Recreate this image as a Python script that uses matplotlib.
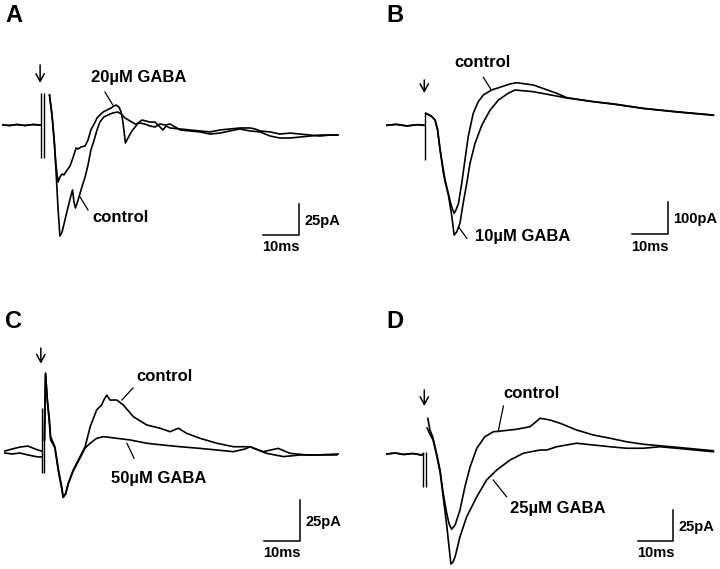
import numpy as np
import matplotlib
matplotlib.use("Agg")
import matplotlib.pyplot as plt

plt.rcParams['font.family'] = ['Liberation Sans', 'DejaVu Sans']

# ---- panel A (20uM GABA), time in ms from stimulus, current in pA ----
a_base_t = [-11.1, -9.2, -7.2, -5.0, -2.8, -0.6]
a_base_i = [0, -0.4, 0.4, -0.4, 0.4, 0]
a_ctrl_t = [1.8, 2.5, 3.1, 3.6, 4.2, 4.7, 5.3, 6.1, 6.9, 7.8, 8.2, 8.6, 9.0, 9.4, 10.0, 10.8, 11.7, 12.5,
            13.3, 14.2, 15.0, 15.8, 16.9, 18.1, 19.4, 20.8, 21.7, 22.8, 24.2, 25.6, 26.9, 28.3, 29.7, 31.1,
            32.5, 33.9, 35.3, 36.7, 38.1, 40.8, 43.6, 46.4, 49.2, 51.9, 54.7, 57.5, 60.3, 63.1, 65.8, 68.6,
            71.4, 74.2, 76.9, 79.7, 81.9]
a_ctrl_i = [24.2, 8.1, -12.1, -36.3, -68.5, -89.5, -86.3, -76.6, -66.9, -56.5, -52.4, -62.1, -66.9, -63.7,
            -58.1, -50.0, -41.9, -32.3, -20.2, -12.1, -4.0, 2.4, 6.5, 8.1, 9.7, 10.5, 8.9, 5.6, 3.2, 0.8, 1.6,
            0.8, -0.8, -1.6, 0.8, 0, 0.8, -1.6, -4.0, -4.8, -5.6, -7.3, -6.5, -4.8, -3.2, -4.8, -5.6, -8.9,
            -10.5, -10.5, -9.7, -8.9, -8.1, -8.1, -8.1]
a_gaba_t = [1.8, 2.5, 3.1, 3.6, 4.2, 4.7, 5.3, 5.8, 6.5, 7.5, 8.3, 9.2, 9.7, 10.6, 11.7, 12.5, 13.3, 14.2,
            15.0, 15.8, 16.7, 17.8, 18.9, 19.7, 20.3, 21.1, 21.7, 22.2, 22.9, 23.3, 23.9, 24.7, 25.6, 26.4,
            27.5, 28.6, 29.7, 31.1, 32.5, 33.3, 34.2, 35.3, 38.1, 40.8, 43.6, 46.4, 49.2, 51.9, 54.7, 57.5,
            58.9, 60.3, 63.1, 65.8, 68.6, 71.4, 74.2, 76.9, 79.7, 81.9]
a_gaba_i = [24.2, 8.1, -12.1, -32.3, -46.0, -41.9, -39.5, -40.3, -37.1, -33.1, -26.6, -18.5, -19.4, -17.7,
            -16.9, -12.1, -4.0, 0.8, 5.6, 8.1, 10.5, 12.1, 13.7, 15.3, 16.1, 14.5, 10.5, 2.4, -14.5, -12.1,
            -8.9, -4.8, -1.6, 1.6, 4.0, 3.2, 2.4, 2.4, -1.6, -4.0, -0.8, -2.4, -3.2, -4.0, -4.8, -5.6, -4.0,
            -3.2, -2.4, -2.4, -3.2, -4.8, -5.6, -7.3, -6.5, -7.3, -8.1, -8.9, -8.1, -8.1]
a_art_t = [-0.5, 0.4]
a_art_range = [25.8, -26.6]

# ---- panel B (10uM GABA) ----
b_base_t = [-10.6, -8.0, -5.0, -2.0, -0.3]
b_base_i = [0, 3, -2, 2, 0]
b_ctrl_t = [0.2, 1.7, 2.8, 3.5, 4.2, 5.1, 5.6, 6.9, 7.5, 8.1, 8.6, 9.3, 10.2, 11.1, 12.0, 13.4, 14.8, 16.2,
            18.5, 21.3, 23.6, 25.5, 30.1, 36.6, 39.4, 46.8, 52.6, 60.6, 69.9, 80.1]
b_ctrl_i = [37.5, 29.1, 16.6, -14.7, -77.2, -139.7, -171.6, -233.4, -258.4, -275, -264.7, -243.8, -181.3,
            -108.4, -35.6, 37.5, 73.8, 94.7, 110.3, 120.6, 129.1, 133.1, 125.9, 100, 86.3, 73.8, 66.6, 53.1,
            42.5, 32.2]
b_gaba_t = [0.2, 1.7, 2.8, 3.5, 4.2, 5.1, 5.6, 6.5, 7.4, 8.1, 8.8, 9.7, 10.6, 11.6, 12.5, 13.9, 15.8, 18.1,
            20.4, 23.1, 25.0, 30.1, 37.5, 39.4, 46.8, 52.6, 60.6, 69.9, 80.1]
b_gaba_i = [37.5, 29.1, 16.6, -14.7, -77.2, -149.1, -177.2, -217.8, -280.3, -342.8, -333.4, -306.3, -243.8,
            -181.3, -118.8, -56.3, 0.9, 47.8, 79.1, 100, 110.3, 105, 89.4, 85.3, 73.8, 65.6, 52.5, 41.6, 31.3]
b_art_t = [0.0]
b_art_range = [37.5, -108.4]

# ---- panel C (50uM GABA) ----
c_base_t = [-10.6, -8.6, -6.4, -4.2, -2.8, -1.4, -0.4]
c_base_ctrl = [0.6, 1.8, 3.0, 3.6, 2.4, 1.2, 0.6]
c_base_gaba = [-0.6, -1.2, -0.6, -1.8, -2.4, -3.0, -3.0]
c_ctrl_t = [0.4, 0.7, 1.2, 1.8, 2.1, 2.9, 3.3, 4.3, 5.2, 5.6, 6.3, 7.0, 8.4, 10.3, 11.7, 13.1, 14.9, 16.3,
            16.9, 17.7, 18.6, 20.5, 22.3, 25.1, 28.8, 32.5, 35.3, 37.6, 39.9, 43.6, 48.3, 52.9, 57.5, 61.2,
            65.3, 68.6, 73.3, 81.6]
c_ctrl_i = [7.3, 47.7, 31.5, 19.4, 9.3, 5.3, 3.2, -10.9, -21.0, -27.1, -25.0, -19.0, -10.9, -2.8, 3.2, 15.3,
            25.5, 28.5, 31.5, 34.5, 31.5, 31.5, 28.5, 21.4, 16.4, 14.4, 12.3, 14.4, 11.3, 8.3, 5.3, 3.2, 3.2,
            0.2, 2.2, -0.8, -1.8, -1.8]
c_gaba_t = [0.4, 0.7, 1.2, 1.8, 2.1, 2.9, 3.3, 4.3, 5.2, 5.6, 6.3, 7.0, 8.4, 10.3, 11.7, 13.1, 14.9, 16.8,
            20.5, 24.2, 28.8, 33.4, 38.1, 43.6, 48.3, 52.9, 56.1, 57.5, 59.7, 62.1, 66.8, 71.4, 76.0, 82.0]
c_gaba_i = [7.3, 47.7, 31.5, 16.4, 7.3, 4.2, 2.4, -12.1, -22.4, -27.6, -25.5, -19.4, -11.5, -3.6, 2.4, 5.3,
            8.3, 9.3, 8.3, 7.3, 5.3, 4.2, 3.2, 2.2, 1.2, 0.2, 1.8, 3.2, 1.2, -0.8, -2.8, -1.8, -1.8, -1.2]
c_art_t = [-0.4, 0.2]
c_art_range = [26.7, -12.7]

# ---- panel D (25uM GABA) ----
d_base_t = [-10.9, -8.5, -6.0, -3.5, -1.0, -0.5]
d_base_i = [0, 0.8, -0.4, 0.4, -0.8, 0]
d_ctrl_t = [0.8, 1.4, 2.2, 3.3, 4.3, 5.2, 6.2, 6.9, 7.6, 8.6, 10.0, 11.4, 12.9, 14.8, 17.1, 19.5, 22.4, 26.2,
            30.0, 32.9, 35.7, 38.6, 43.3, 48.1, 52.9, 57.6, 62.4, 67.1, 71.9, 82.4]
d_ctrl_i = [28.6, 19.2, 13.8, 0.6, -12.8, -31.4, -47.4, -56.0, -60.2, -56.8, -44.8, -26.2, -10.2, 4.6, 13.8,
            17.8, 18.6, 19.8, 21.8, 28.6, 27.2, 24.6, 19.2, 15.2, 12.6, 9.8, 7.8, 6.6, 5.4, 2.6]
d_gaba_t = [0.6, 1.4, 2.3, 3.3, 4.3, 5.2, 6.2, 6.9, 7.4, 8.0, 8.6, 10.0, 11.9, 14.8, 17.6, 20.5, 24.3, 28.1,
            32.9, 34.8, 37.6, 43.3, 48.1, 52.9, 57.6, 62.4, 67.1, 71.9, 82.4]
d_gaba_i = [20.8, 16.0, 11.2, -0.8, -14.4, -34.4, -56.8, -75.2, -88.0, -86.4, -82.2, -66.2, -50.2, -34.2,
            -20.8, -12.8, -4.8, 0.6, 3.2, 3.2, 5.8, 8.6, 7.2, 5.8, 4.6, 4.6, 5.8, 4.6, 1.8]
d_art_t = [-0.5, 0.3]
d_art_range = [1.8, -26.2]

W, H = 720, 569
fig = plt.figure(figsize=(W / 100, H / 100), dpi=100)
LW = 1.2


def panel_axes(name, x0, y0, px_ms, px_pa):
    # axes over whole figure; stimulus at pixel (x0, y0), scaled to px/ms and px/pA
    ax = fig.add_axes([0, 0, 1, 1], label=name)
    ax.set_xlim(-x0 / px_ms, (W - x0) / px_ms)
    ax.set_ylim((y0 - H) / px_pa, y0 / px_pa)
    ax.axis('off')
    ax.patch.set_visible(False)
    return ax


def draw_panel(ax, base_t, base1, base2, t1, i1, t2, i2, art_t, art_range,
               arrow, bar_corner, bar_pa, bar_label, lab1, lab2):
    ax.plot(base_t, base1, color='k', lw=LW)
    ax.plot(base_t, base2, color='k', lw=LW)
    ax.plot(t1, i1, color='k', lw=LW, solid_joinstyle='round')
    ax.plot(t2, i2, color='k', lw=LW, solid_joinstyle='round')
    ax.vlines(art_t, art_range[1], art_range[0], color='k', lw=1.0)
    # stimulus arrow
    ax.annotate('', xy=(arrow[0], arrow[2]), xytext=(arrow[0], arrow[1]),
                arrowprops=dict(arrowstyle='->,head_length=0.55,head_width=0.3', lw=1.1,
                                color='k', shrinkA=0, shrinkB=0))
    # scale bar: 10 ms horizontal, bar_pa vertical
    bt, bi = bar_corner
    ax.plot([bt - 10, bt, bt], [bi, bi, bi + bar_pa], color='k', lw=1.1)
    ax.annotate(bar_label, (bt, bi + bar_pa / 2), xytext=(4, -1), textcoords='offset points',
                fontsize=10.5, fontweight='bold', ha='left', va='center')
    ax.annotate('10ms', (bt - 5, bi), xytext=(0, -9), textcoords='offset points',
                fontsize=10.5, fontweight='bold', ha='center', va='center')
    for text, tx, pointer in (lab1, lab2):
        ax.text(tx[0], tx[1], text, fontsize=12, fontweight='bold', ha='center', va='center')
        ax.plot(pointer[0], pointer[1], color='k', lw=0.9)


# A
ax = panel_axes('A', 43, 125, 3.6, 1.24)
draw_panel(ax, a_base_t, a_base_i, a_base_i, a_ctrl_t, a_ctrl_i, a_gaba_t, a_gaba_i,
           a_art_t, a_art_range, (-0.8, 48.4, 33.9), (71.1, -88.7), 25, '25pA',
           ('20µM GABA', (26.7, 38.7), ([17.2, 19.4], [26.6, 16.1])),
           ('control', (21.4, -75.0), ([10.3, 12.5], [-58.1, -68.5])))

# B
ax = panel_axes('B', 425, 125.3, 3.6, 0.32)
draw_panel(ax, b_base_t, b_base_i, b_base_i, b_ctrl_t, b_ctrl_i, b_gaba_t, b_gaba_i,
           b_art_t, b_art_range, (-0.2, 141.6, 100.9), (67.5, -339.7), 100, '100pA',
           ('control', (16.0, 197.8), ([16.2, 18.3], [150.0, 112.5])),
           ('10µM GABA', (27.1, -349.0), ([9.3, 11.6], [-316.9, -353.1])))

# C
ax = panel_axes('C', 43, 452, 3.6, 1.65)
draw_panel(ax, c_base_t, c_base_ctrl, c_base_gaba, c_ctrl_t, c_ctrl_i, c_gaba_t, c_gaba_i,
           c_art_t, c_art_range, (-0.6, 63.0, 53.5), (71.4, -53.8), 25, '25pA',
           ('control', (33.75, 45.5), ([21.9, 25.0], [31.5, 38.8])),
           ('50µM GABA', (32.2, -15.8), ([23.3, 25.3], [5.3, -3.8])))

# D
ax = panel_axes('D', 425, 454, 3.5, 1.25)
draw_panel(ax, d_base_t, d_base_i, d_base_i, d_ctrl_t, d_ctrl_i, d_gaba_t, d_gaba_i,
           d_art_t, d_art_range, (-0.2, 51.2, 38.4), (70.9, -69.4), 25, '25pA',
           ('control', (30.4, 48.8), ([20.9, 22.4], [17.8, 38.4])),
           ('25µM GABA', (37.9, -44.0), ([19.5, 23.3], [-20.8, -34.2])))

# panel letters
for letter, px, py in (('A', 5, 16), ('B', 386, 16), ('C', 5, 322), ('D', 386, 322)):
    fig.text(px / W, 1 - py / H, letter, fontsize=17, fontweight='bold', ha='left', va='center')

fig.savefig('out.png', dpi=100)
